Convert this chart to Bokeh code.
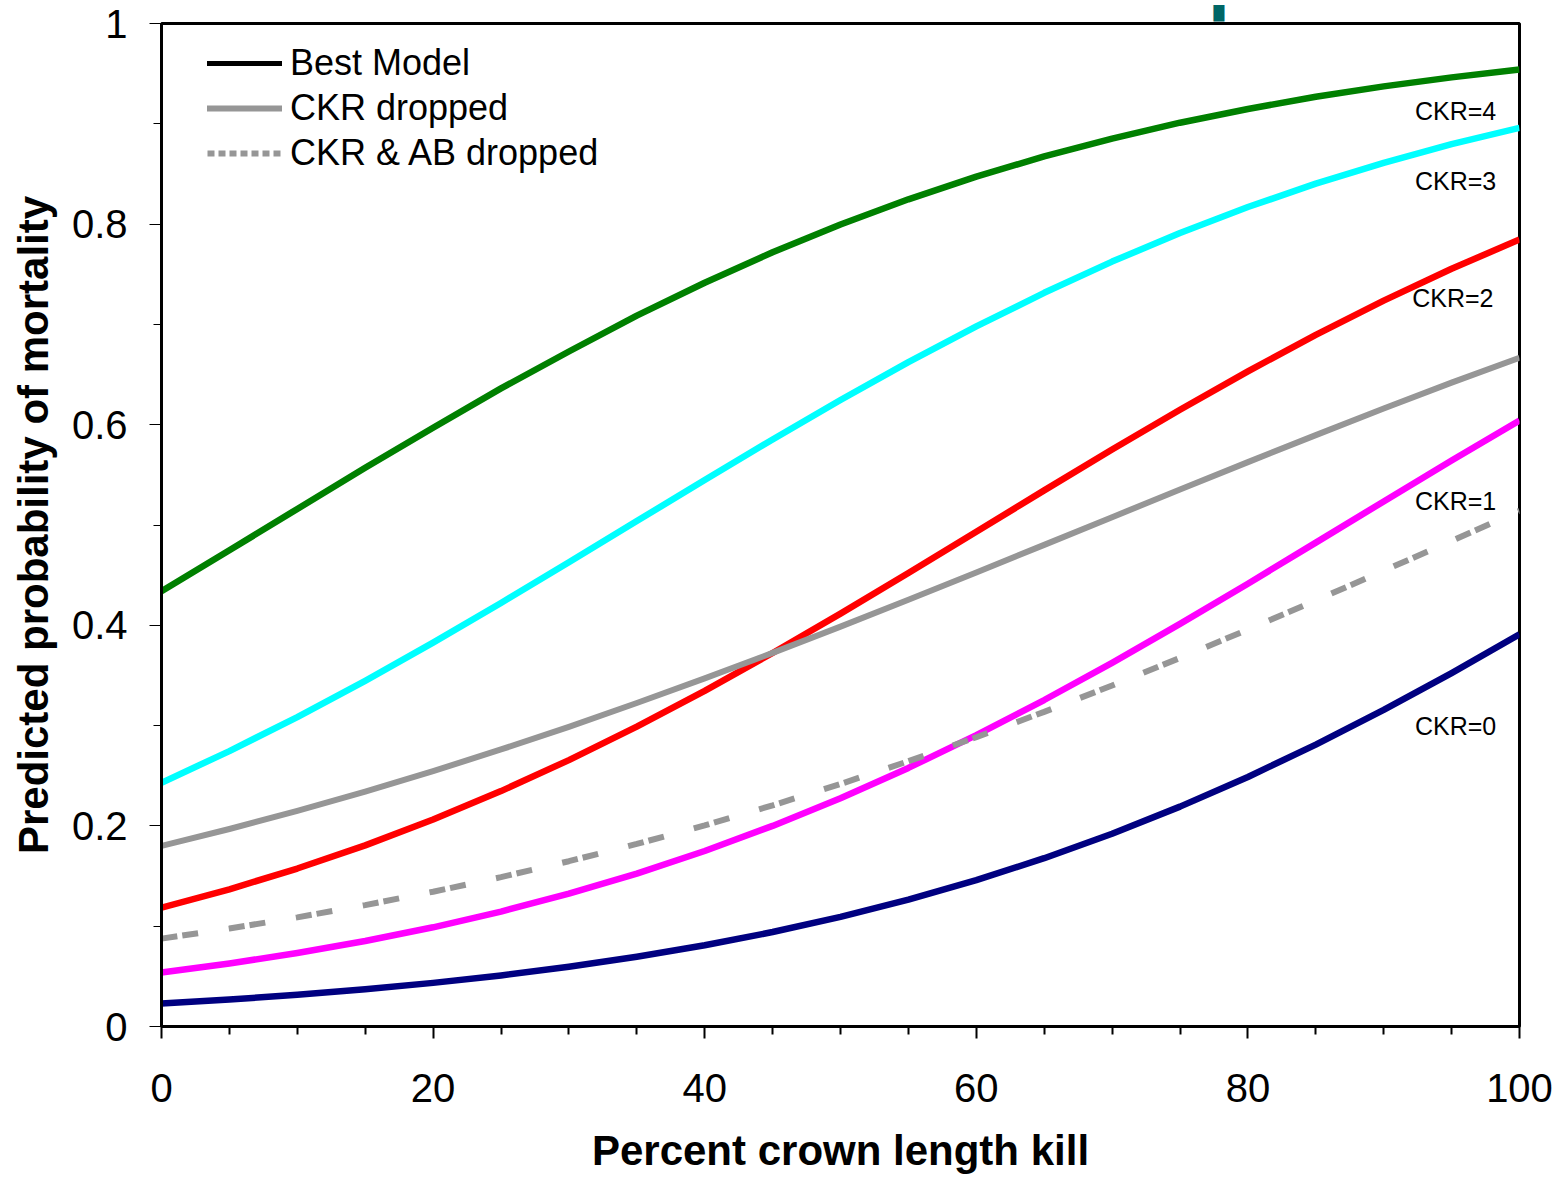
from bokeh.plotting import figure
from bokeh.models import (ColumnDataSource, FixedTicker, CustomJSTickFormatter, Legend,
                          LegendItem, Range1d, Title)
from bokeh.embed import file_html
from bokeh.resources import INLINE
from bokeh.core.properties import value

# ---- data ----
crown_kill = [0, 5, 10, 15, 20, 25, 30, 35, 40, 45, 50, 55, 60, 65, 70, 75, 80, 85, 90, 95, 100]
ckr0 = [0.0229, 0.0269, 0.0316, 0.0371, 0.0435, 0.0509, 0.0595, 0.0695, 0.0810, 0.0942, 0.1093,
        0.1265, 0.1459, 0.1678, 0.1922, 0.2192, 0.2488, 0.2810, 0.3156, 0.3524, 0.3910]
ckr1 = [0.0538, 0.0628, 0.0733, 0.0852, 0.0989, 0.1146, 0.1324, 0.1525, 0.1750, 0.2000, 0.2276,
        0.2578, 0.2905, 0.3255, 0.3626, 0.4014, 0.4415, 0.4824, 0.5235, 0.5643, 0.6042]
ckr2 = [0.1185, 0.1368, 0.1575, 0.1806, 0.2064, 0.2347, 0.2656, 0.2990, 0.3347, 0.3724, 0.4117,
        0.4522, 0.4933, 0.5345, 0.5752, 0.6149, 0.6532, 0.6896, 0.7237, 0.7555, 0.7846]
ckr3 = [0.2430, 0.2746, 0.3085, 0.3447, 0.3827, 0.4223, 0.4628, 0.5039, 0.5449, 0.5853, 0.6246,
        0.6623, 0.6980, 0.7315, 0.7626, 0.7911, 0.8170, 0.8403, 0.8610, 0.8797, 0.8960]
ckr4 = [0.4340, 0.4748, 0.5160, 0.5570, 0.5970, 0.6362, 0.6730, 0.7087, 0.7415, 0.7719, 0.7996,
        0.8247, 0.8474, 0.8675, 0.8853, 0.9011, 0.9148, 0.9269, 0.9373, 0.9463, 0.9541]
ckr_dropped = [0.1800, 0.1969, 0.2150, 0.2342, 0.2546, 0.2762, 0.2988, 0.3225, 0.3471, 0.3725,
               0.3987, 0.4255, 0.4527, 0.4802, 0.5078, 0.5353, 0.5627, 0.5896, 0.6161, 0.6419,
               0.6668]
ckr_ab_dropped = [0.0876, 0.0977, 0.1088, 0.1210, 0.1344, 0.1489, 0.1648, 0.1820, 0.2005, 0.2205,
                  0.2418, 0.2645, 0.2884, 0.3137, 0.3400, 0.3675, 0.3958, 0.4248, 0.4544, 0.4842,
                  0.5142]
no_values = [float("nan")] * len(crown_kill)   # legend-only sample line

curve_labels = ["CKR=0", "CKR=1", "CKR=2", "CKR=3", "CKR=4"]
curve_label_x = [92.3, 92.3, 92.1, 92.3, 92.3]
curve_label_y = [0.300, 0.524, 0.726, 0.843, 0.913]

x_major = [0, 20, 40, 60, 80, 100]
x_minor = [5, 10, 15, 25, 30, 35, 45, 50, 55, 65, 70, 75, 85, 90, 95]
y_major = [0, 0.2, 0.4, 0.6, 0.8, 1]
y_minor = [0.1, 0.3, 0.5, 0.7, 0.9]

legend_names = ["Best Model", "CKR dropped", "CKR & AB dropped"]

FONT = "Liberation Sans"

p = figure(width=1558, height=1176, x_range=Range1d(0, 100), y_range=Range1d(0, 1),
           output_backend="svg", toolbar_location=None,
           min_border_left=161, min_border_right=39, min_border_top=22, min_border_bottom=150)
p.grid.visible = False
p.background_fill_color = "white"
p.border_fill_color = "white"
p.outline_line_color = "black"
p.outline_line_width = 3
p.outline_line_alpha = 1

# axes
for ax in (p.xaxis[0], p.yaxis[0]):
    ax.axis_line_width = 3
    ax.axis_line_color = "black"
    ax.major_tick_in = 0
    ax.minor_tick_in = 0
    ax.major_tick_out = 12
    ax.minor_tick_out = 8
    ax.major_tick_line_color = "black"
    ax.minor_tick_line_color = "black"
    ax.major_label_text_font = FONT
    ax.major_label_text_font_size = "40px"
    ax.major_label_text_color = "black"
    ax.axis_label_text_font = FONT
    ax.axis_label_text_font_size = "42px"
    ax.axis_label_text_font_style = "bold"
    ax.axis_label_text_color = "black"

p.xaxis.ticker = FixedTicker(ticks=x_major, minor_ticks=x_minor)
p.yaxis.ticker = FixedTicker(ticks=y_major, minor_ticks=y_minor)
p.xaxis.major_tick_line_width = 2
p.xaxis.minor_tick_line_width = 2
p.yaxis.major_tick_line_width = 1
p.yaxis.minor_tick_line_width = 1
p.xaxis.formatter = CustomJSTickFormatter(code="return String(Math.round(tick*10)/10)")
p.yaxis.formatter = CustomJSTickFormatter(code="return String(Math.round(tick*10)/10)")
p.xaxis.axis_label = "Percent crown length kill"
p.yaxis.axis_label = "Predicted probability of mortality"
p.xaxis.major_label_standoff = 35
p.xaxis.axis_label_standoff = 22
p.yaxis.major_label_standoff = 22
p.yaxis.axis_label_standoff = 12

src = ColumnDataSource(dict(x=crown_kill, c0=ckr0, c1=ckr1, c2=ckr2, c3=ckr3, c4=ckr4,
                            cd=ckr_dropped, cad=ckr_ab_dropped, nv=no_values))

LW = 6.5
p.line("x", "c0", source=src, line_color="#000080", line_width=LW, line_join="round")
p.line("x", "c1", source=src, line_color="#FF00FF", line_width=LW, line_join="round")
p.line("x", "c2", source=src, line_color="#FF0000", line_width=LW, line_join="round")
p.line("x", "c3", source=src, line_color="#00FFFF", line_width=LW, line_join="round")
p.line("x", "c4", source=src, line_color="#008000", line_width=LW, line_join="round")
p.line("x", "cd", source=src, line_color="#969696", line_width=6, line_join="round")
p.line("x", "cad", source=src, line_color="#969696", line_width=6, line_dash="16 5 16 31",
       line_cap="butt")

lab_src = ColumnDataSource(dict(x=curve_label_x, y=curve_label_y, t=curve_labels))
p.text("x", "y", text="t", source=lab_src, text_font=value(FONT), text_font_size="25px",
       text_align="left", text_baseline="middle", text_color="black")

# legend sample lines (no visible data)
r_best = p.line("x", "nv", source=src, line_color="black", line_width=5, line_cap="round")
r_drop_s = p.line("x", "nv", source=src, line_color="#969696", line_width=6, line_cap="round")
r_ab = p.line("x", "nv", source=src, line_color="#969696", line_width=6, line_dash="7 4")
legend = Legend(items=[LegendItem(label=legend_names[0], renderers=[r_best]),
                       LegendItem(label=legend_names[1], renderers=[r_drop_s]),
                       LegendItem(label=legend_names[2], renderers=[r_ab])],
                location=(46, 852), margin=0, padding=0, spacing=3,
                glyph_width=75, glyph_height=42, label_height=42, label_standoff=8,
                label_text_font=FONT, label_text_font_size="36px", label_text_color="black",
                border_line_alpha=0, background_fill_alpha=0)
p.add_layout(legend, "center")

# small teal mark above the frame
p.add_layout(Title(text="\u2588", align="left", offset=1052, text_color="#006666",
                   text_font="DejaVu Sans", text_font_size="14px", text_font_style="normal",
                   standoff=5), "above")

open("out.html", "w").write(file_html(p, INLINE))
